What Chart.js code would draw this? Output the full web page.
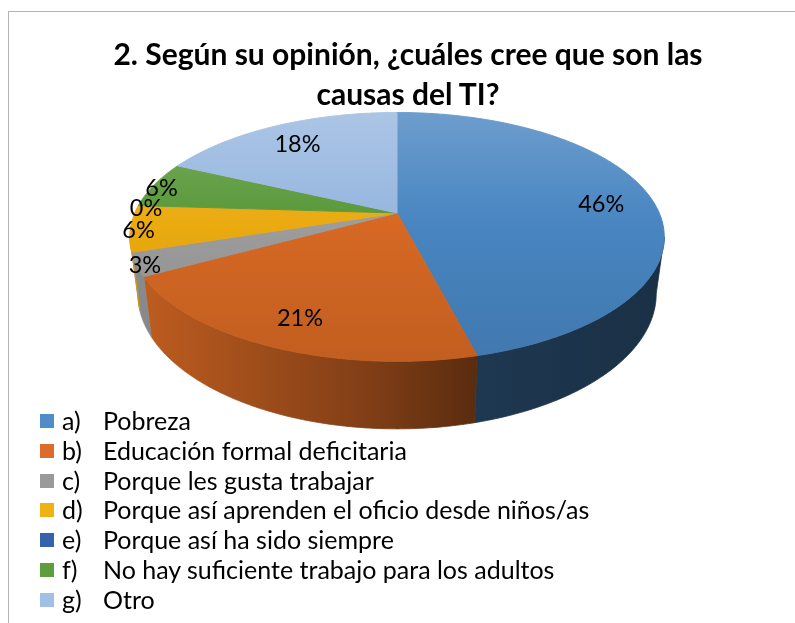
<!DOCTYPE html>
<html lang="es"><head><meta charset="utf-8">
<script src="https://cdn.jsdelivr.net/npm/chart.js@4.4.1/dist/chart.umd.min.js"></script>
<style>
html,body{margin:0;padding:0;background:#fff;width:795px;height:623px;overflow:hidden}
#frame{position:absolute;left:8px;top:11px;width:820px;height:640px;border-top:1px solid #b4b4b4;border-left:1px solid #b4b4b4}
#title{position:absolute;left:8px;width:800px;top:33px;text-align:center;font:bold 30px Lato;line-height:40px;color:#000}
#box{position:absolute;left:9px;top:12px;width:799px;height:611px}
#legend{position:absolute;left:40px;top:406px;font:25px Lato;color:#000}
.row{position:relative;height:29.8px;white-space:nowrap}
.sw{position:absolute;left:0;top:8px;width:14px;height:14px}
.lt{position:absolute;left:22px;top:0;line-height:29.8px}
.nm{position:absolute;left:63px;top:0;line-height:29.8px}
</style></head><body>
<div id="frame"></div>
<div id="box"><canvas id="c"></canvas></div>
<div id="title"></div>
<div id="legend"></div>
<script>
// ---- data ----
const titleLines = ['2. Según su opinión, ¿cuáles cree que son las', 'causas del TI?'];
const letters = ['a)', 'b)', 'c)', 'd)', 'e)', 'f)', 'g)'];
const causes = ['Pobreza', 'Educación formal deficitaria', 'Porque les gusta trabajar',
  'Porque así aprenden el oficio desde niños/as', 'Porque así ha sido siempre',
  'No hay suficiente trabajo para los adultos', 'Otro'];
const percents = [46, 21, 3, 6, 0, 6, 18];

// ---- styles ----
const faceColors = [[72,133,193],[214,104,36],[156,156,156],[234,170,16],[46,90,165],[88,152,56],[150,182,223]];
const legendColors = ['#4f8cc8','#dd6c2c','#9a9a9a','#efb213','#3462ab','#5f9e3e','#a1c0e6'];
const WALL_STOPS = [[0,0.9],[0.45,0.6],[0.65,0.42],[1,0.36]];
const K = 0.192, AX = 2.69, BY = 1.229, DZ = 0.56, SHRINK = 0.03;
const LABEL_RADIUS_BIG = 0.8, LABEL_RADIUS_SMALL = 0.97, LABEL_DY = 3;
const TAU = Math.PI * 2;

function rgb(c, f, lift) {
  lift = lift || 0;
  const m = v => Math.round(Math.min(255, v * f + (255 - v * f) * lift));
  return 'rgb(' + m(c[0]) + ',' + m(c[1]) + ',' + m(c[2]) + ')';
}
// perspective projection of the (circular) Chart.js pie onto a tilted disc
function project(g, px, py, h) {
  const u = (px - g.X) / g.R, w = (py - g.Y) / g.R;
  const den = 1 - K * w;
  return [g.X + AX * g.R * (1 - SHRINK * h) * u / den, g.Y + (BY * w + DZ * h) * g.R / den];
}
function arcGeom(chart) {
  const el = chart.getDatasetMeta(0).data[0];
  if (!el) return null;
  return {X: el.x, Y: el.y, R: el.outerRadius};
}
function areaGeom(chart) {
  const a = chart.chartArea;
  return {X: (a.left + a.right) / 2, Y: (a.top + a.bottom) / 2, R: Math.min(a.right - a.left, a.bottom - a.top) / 2};
}
function faceFill(c) {
  const i = c.dataIndex || 0;
  const ch = c.chart;
  if (!ch.chartArea) return rgb(faceColors[i], 1);
  const g = areaGeom(ch);
  const yTop = g.Y - BY * g.R / (1 + K), yBot = g.Y + BY * g.R / (1 - K);
  const gr = ch.ctx.createLinearGradient(0, yTop, 0, yBot);
  gr.addColorStop(0, rgb(faceColors[i], 1, 0.2));
  gr.addColorStop(0.45, rgb(faceColors[i], 1));
  gr.addColorStop(1, rgb(faceColors[i], 0.9));
  return gr;
}
function drawWalls(chart, g) {
  const ctx = chart.ctx, meta = chart.getDatasetMeta(0);
  const lo = Math.asin(K), hi = Math.PI - lo;
  const half = AX * g.R / Math.sqrt(1 - K * K);
  const xL = g.X - half, xR = g.X + half;
  meta.data.forEach((el, i) => {
    const a = Math.max(el.startAngle, lo), b = Math.min(el.endAngle, hi);
    if (b <= a) return;
    const n = Math.max(2, Math.ceil((b - a) / 0.01));
    ctx.save();
    ctx.beginPath();
    for (let k = 0; k <= n; k++) {
      const t = a + (b - a) * k / n;
      const p = project(g, g.X + g.R * Math.cos(t), g.Y + g.R * Math.sin(t), 0);
      if (k) ctx.lineTo(p[0], p[1]); else ctx.moveTo(p[0], p[1]);
    }
    for (let k = n; k >= 0; k--) {
      const t = a + (b - a) * k / n;
      const p = project(g, g.X + g.R * Math.cos(t), g.Y + g.R * Math.sin(t), 1);
      ctx.lineTo(p[0], p[1]);
    }
    ctx.closePath();
    const gr = ctx.createLinearGradient(xL, 0, xR, 0);
    WALL_STOPS.forEach(s => gr.addColorStop(s[0], rgb(faceColors[i], s[1])));
    ctx.fillStyle = gr; ctx.fill();
    ctx.strokeStyle = gr; ctx.lineWidth = 0.8; ctx.stroke();
    ctx.restore();
  });
}
function drawLabels(chart) {
  const ctx = chart.ctx, g = arcGeom(chart), meta = chart.getDatasetMeta(0);
  const vals = chart.data.datasets[0].data;
  ctx.save();
  ctx.font = '23.5px Lato';
  ctx.fillStyle = '#000';
  ctx.textAlign = 'center';
  ctx.textBaseline = 'middle';
  meta.data.forEach((el, i) => {
    const m = (el.startAngle + el.endAngle) / 2;
    const f = vals[i] >= 10 ? LABEL_RADIUS_BIG : LABEL_RADIUS_SMALL;
    const p = project(g, g.X + f * g.R * Math.cos(m), g.Y + f * g.R * Math.sin(m), 0);
    ctx.fillText(vals[i] + '%', p[0], p[1] + LABEL_DY);
  });
  ctx.restore();
}
const pie3d = {
  id: 'pie3d',
  beforeDatasetsDraw(chart) {
    const ctx = chart.ctx, g = arcGeom(chart);
    if (!g) return;
    drawWalls(chart, g);
    const P = (x, y) => project(g, x, y, 0);
    const proto = Object.getPrototypeOf(ctx);
    const oLine = proto.lineTo, oMove = proto.moveTo;
    ctx.moveTo = function (x, y) { const p = P(x, y); oMove.call(this, p[0], p[1]); };
    ctx.lineTo = function (x, y) { const p = P(x, y); oLine.call(this, p[0], p[1]); };
    ctx.arc = function (cx, cy, r, a0, a1, ccw) {
      if (!(r > 0) || !isFinite(a0) || !isFinite(a1)) { const p = P(cx, cy); oLine.call(this, p[0], p[1]); return; }
      let sweep = a1 - a0;
      if (!ccw) { sweep = sweep >= TAU ? TAU : ((sweep % TAU) + TAU) % TAU; }
      else { sweep = -sweep >= TAU ? -TAU : -((((-sweep) % TAU) + TAU) % TAU); }
      const n = Math.max(2, Math.ceil(Math.abs(sweep) / 0.01));
      for (let k = 0; k <= n; k++) {
        const a = a0 + sweep * k / n;
        const p = P(cx + r * Math.cos(a), cy + r * Math.sin(a));
        oLine.call(this, p[0], p[1]);
      }
    };
  },
  afterDatasetsDraw(chart) {
    const ctx = chart.ctx;
    delete ctx.arc; delete ctx.lineTo; delete ctx.moveTo;
    drawLabels(chart);
  }
};

// title & legend (HTML text)
document.getElementById('title').innerHTML = titleLines.join('<br>');
const lg = document.getElementById('legend');
letters.forEach((l, i) => {
  const row = document.createElement('div'); row.className = 'row';
  row.innerHTML = '<span class="sw" style="background:' + legendColors[i] + '"></span><span class="lt">' + l + '</span><span class="nm">' + causes[i] + '</span>';
  lg.appendChild(row);
});

new Chart(document.getElementById('c'), {
  type: 'pie',
  data: {
    labels: letters.map((l, i) => l + ' ' + causes[i]),
    datasets: [{ data: percents, backgroundColor: faceFill, borderColor: faceFill, borderWidth: 1, clip: false }]
  },
  options: {
    responsive: true, maintainAspectRatio: false, animation: false, events: [],
    layout: { padding: { left: 0, right: 23, top: 103, bottom: 312 } },
    plugins: { legend: { display: false }, title: { display: false }, tooltip: { enabled: false } }
  },
  plugins: [pie3d]
});
</script>
</body></html>
